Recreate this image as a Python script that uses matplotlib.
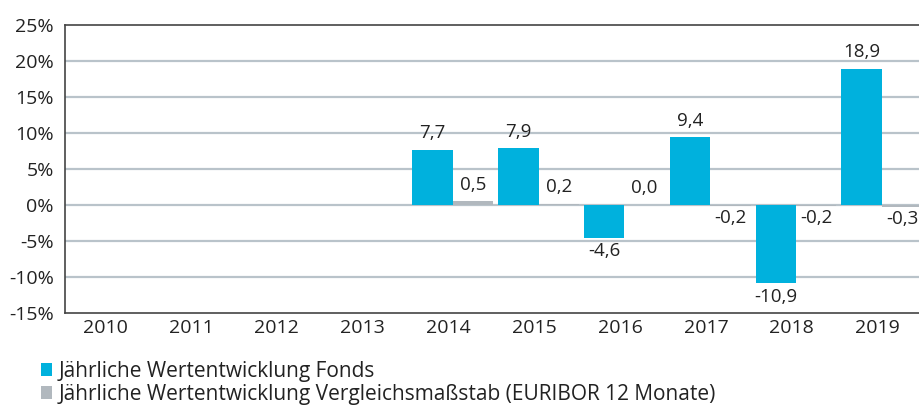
import matplotlib
matplotlib.use("Agg")
import matplotlib.pyplot as plt
from matplotlib.patches import Patch
import numpy as np

plt.rcParams['font.family'] = ['Open Sans', 'DejaVu Sans']

years = ['2010', '2011', '2012', '2013', '2014', '2015', '2016', '2017', '2018', '2019']
fonds = [None, None, None, None, 7.7, 7.9, -4.6, 9.4, -10.9, 18.9]
bench = [None, None, None, None, 0.5, 0.2, 0.0, -0.2, -0.2, -0.3]
y_ticks = [-15, -10, -5, 0, 5, 10, 15, 20, 25]
series_names = ['Jährliche Wertentwicklung Fonds',
                'Jährliche Wertentwicklung Vergleichsmaßstab (EURIBOR 12 Monate)']

c_fonds = '#00b1dd'
c_bench = '#b1b8be'
txt = '#222222'

W, H = 919, 408
fig = plt.figure(figsize=(W / 100, H / 100), dpi=100)
ax = fig.add_axes([65 / W, 1 - 313 / H, 858 / W, 288 / H])

x = np.arange(len(years))
bw = 0.47
shift = 0.02
lab_fs = 13.5
for i in range(len(years)):
    f = fonds[i]
    b = bench[i]
    if f is not None:
        xf = x[i] + shift - bw / 2
        ax.bar(xf, f, width=bw, color=c_fonds, zorder=3)
        off = 2.3 if f >= 0 else -1.85
        ax.text(xf, f + off, f"{f:.1f}".replace('.', ','),
                ha='center', va='center', fontsize=lab_fs, color=txt)
    if b is not None:
        xb = x[i] + shift + bw / 2
        ax.bar(xb, b if b != 0 else 0.0001, width=bw, color=c_bench, zorder=3)
        off = 2.3 if b >= 0 else -1.65
        ax.text(xb, b + off, f"{b:.1f}".replace('.', ','),
                ha='center', va='center', fontsize=lab_fs, color=txt)

ax.set_xlim(-0.5, len(years) - 0.5)
ax.set_ylim(-15, 25)
ax.set_yticks(y_ticks)
ax.set_yticklabels([f"{v}%" for v in y_ticks], fontsize=14, color=txt)
ax.set_xticks(x - 0.03)
ax.set_xticklabels(years, fontsize=14, color=txt)
ax.tick_params(axis='x', length=0, pad=4)
ax.tick_params(axis='y', length=0, pad=8)
for v in y_ticks[1:-1]:
    ax.axhline(v, color='#b9c3ca', lw=1.6, zorder=1)
for s in ['left', 'top', 'bottom']:
    ax.spines[s].set_color('#444444')
    ax.spines[s].set_linewidth(1.2)
ax.spines['right'].set_visible(False)

handles = [Patch(facecolor=c_fonds, edgecolor='none'), Patch(facecolor=c_bench, edgecolor='none')]
fig.legend(handles, series_names, loc='upper left', bbox_to_anchor=(41 / W, 1 - 361 / H),
           frameon=False, fontsize=15, handlelength=0.55, handleheight=0.6,
           handletextpad=0.28, labelspacing=0.08, borderpad=0, borderaxespad=0,
           labelcolor=txt)

fig.savefig('out.png', dpi=100)
